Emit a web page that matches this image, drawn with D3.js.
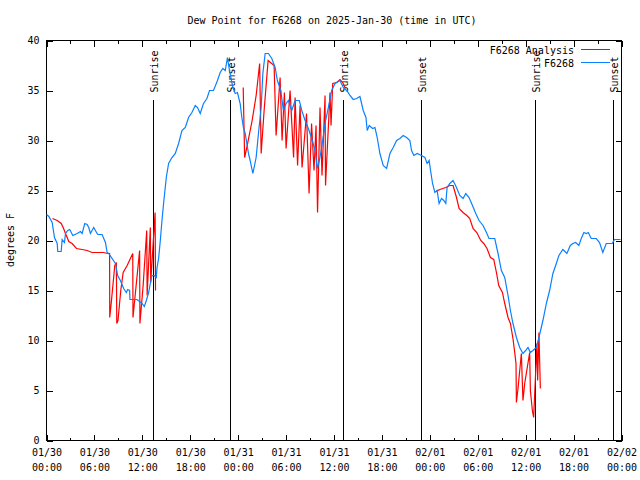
<!DOCTYPE html>
<html><head><meta charset="utf-8">
<script src="https://cdn.jsdelivr.net/npm/d3@7/dist/d3.min.js"></script>
<style>body{margin:0;background:#fff}svg{display:block}text{font-family:"DejaVu Sans Mono",monospace;font-size:10px;fill:#000}</style>
</head><body><svg id="c" width="640" height="480"></svg>
<script>
const title = "Dew Point for F6268 on 2025-Jan-30 (time in UTC)";
const yLabel = "degrees F";
const startUTC = Date.UTC(2025, 0, 30);
const endHours = 72;
const xTickHours = [0, 6, 12, 18, 24, 30, 36, 42, 48, 54, 60, 66, 72];
const xMinorHours = [3, 9, 15, 21, 27, 33, 39, 45, 51, 57, 63, 69];
const yTicks = [0, 5, 10, 15, 20, 25, 30, 35, 40];

const seriesNames = ["F6268 Analysis", "F6268"];
const seriesColors = ["#ff0000", "#0a80ff"];

// F6268 observations (hours after 2025-01-30 00:00 UTC, dew point F)
const blueHours = [0.0,0.29,0.71,1.0,1.34,1.41,1.84,1.96,2.25,2.38,2.66,2.91,3.29,3.84,4.25,4.46,4.79,5.09,5.29,5.5,5.91,6.41,6.96,7.38,7.59,7.79,8.63,8.91,9.25,9.66,10.0,10.16,10.41,10.45,11.34,11.96,12.25,12.5,12.79,13.0,13.21,13.5,13.75,13.84,14.04,14.25,14.46,14.66,15.0,15.29,15.71,16.13,16.54,16.96,17.38,17.79,18.21,18.63,18.91,19.25,19.66,20.09,20.41,20.91,21.41,21.75,22.09,22.38,22.66,22.91,23.34,23.63,23.91,24.25,24.46,24.66,24.88,25.09,25.29,25.5,25.84,26.25,26.54,26.88,27.09,27.38,27.79,28.21,28.63,28.91,29.34,29.66,30.0,30.29,30.71,31.13,31.66,31.96,32.38,32.79,33.21,33.63,33.91,34.16,34.46,34.88,35.29,35.71,36.13,36.75,37.16,37.59,38.0,38.41,38.84,39.25,39.66,40.0,40.16,40.41,40.84,41.13,41.41,41.75,42.16,42.59,43.0,43.41,43.84,44.25,44.66,45.09,45.5,45.71,46.0,46.41,46.96,47.38,47.66,47.91,48.09,48.34,48.63,48.91,49.16,49.46,49.75,50.0,50.16,50.5,50.91,51.34,51.75,52.16,52.5,52.91,53.34,53.75,54.16,54.66,55.09,55.41,56.13,56.54,56.96,57.38,57.79,58.09,58.41,58.84,59.25,59.66,60.0,60.29,60.59,60.91,61.34,61.66,62.16,62.59,63.0,63.41,63.84,64.16,64.66,65.16,65.59,65.91,66.25,66.66,66.96,67.29,67.59,67.84,68.21,68.84,69.25,69.66,70.09,70.84,71.13,71.88];
const blueValues = [22.6,22.4,21.8,20.3,19.7,18.9,18.9,20.1,19.8,20.7,21.0,21.1,20.5,20.7,20.9,20.7,21.7,21.6,21.3,20.7,21.3,20.6,20.6,19.8,18.8,18.7,17.7,16.5,16.0,15.2,14.8,15.1,15.0,14.1,14.1,13.7,13.4,14.0,14.8,15.7,16.5,16.5,16.3,17.3,18.2,20.0,22.0,23.7,26.3,27.7,28.3,28.7,29.7,31.0,31.3,32.3,32.8,33.5,33.3,32.7,33.7,34.2,35.0,35.0,36.0,36.8,37.2,37.0,38.3,37.0,35.3,34.7,34.8,33.7,32.3,31.3,30.7,29.7,28.7,28.0,26.7,28.3,30.7,33.3,36.7,38.7,38.7,38.2,37.3,36.0,35.0,33.0,33.7,34.0,33.0,34.0,34.0,33.0,32.0,31.2,30.2,29.0,27.2,28.0,29.3,31.7,33.3,35.0,35.7,36.0,35.3,35.0,34.5,34.1,34.2,34.4,33.0,32.3,31.0,31.5,31.2,31.3,30.3,28.7,27.5,27.2,28.7,29.3,30.0,30.2,30.5,30.3,30.0,29.0,28.5,28.7,28.5,28.3,27.7,28.0,27.0,25.7,24.8,25.0,23.7,24.2,24.0,23.7,25.3,25.7,26.0,25.3,24.5,24.2,24.7,24.3,23.5,22.7,22.0,21.5,20.8,20.2,20.2,18.7,17.0,16.3,14.5,13.0,11.7,10.3,9.3,8.7,9.0,9.3,8.8,9.0,9.3,10.3,12.0,13.7,15.0,16.7,17.7,18.5,19.1,18.7,19.5,19.7,19.8,19.5,20.2,20.8,20.7,20.8,20.2,20.2,19.8,18.8,19.7,19.7,20.1,20.1];

// F6268 Analysis (null = no analysis)
const redHours = [0.75,1.34,1.84,2.09,2.38,2.79,3.21,3.75,4.46,5.09,5.71,6.34,7.16,7.66,7.9,7.92,8.1,8.55,8.75,8.8,8.95,9.3,9.6,10.1,10.8,10.83,11.2,11.66,11.7,12.1,12.55,12.6,13.0,13.05,13.6,13.65,
  null,
  24.63,24.81,25.13,25.75,26.25,26.69,26.88,27.25,27.75,28.5,28.75,29.25,29.5,29.79,30.0,30.5,30.94,31.13,31.44,31.75,32.0,32.56,32.88,33.19,33.5,33.75,33.94,34.25,34.5,34.88,34.94,35.5,35.63,35.84,36.34,36.75,37.09,37.38,
  null,
  48.75,49.25,50.0,50.5,50.91,51.34,51.66,52.16,52.63,53.0,53.41,53.88,54.38,54.75,55.16,55.59,56.0,56.34,56.63,57.09,57.38,57.79,58.09,58.41,58.63,58.79,58.84,59.04,59.46,59.66,59.88,60.5,60.59,60.84,61.0,61.41,61.5,61.66,61.84];
const redValues = [22.2,22.0,21.7,21.3,20.7,19.9,19.7,19.2,19.1,19.0,18.8,18.8,18.8,18.7,18.7,12.3,13.7,17.5,17.8,11.7,12.0,15.0,16.8,17.5,18.7,12.3,15.3,19.0,11.7,15.5,21.0,14.5,21.3,15.8,22.8,15.0,
  null,
  35.3,28.3,29.5,32.0,34.5,37.7,28.7,33.0,38.0,37.5,30.5,36.3,30.0,34.8,29.2,35.0,28.3,34.3,27.5,33.5,27.3,32.7,24.7,31.7,27.0,31.5,22.8,33.3,26.5,34.5,25.5,34.8,31.5,35.7,35.8,36.1,35.8,35.3,
  null,
  24.9,25.1,25.3,25.5,25.5,24.3,23.2,22.8,22.5,22.2,21.2,20.8,20.0,19.7,19.2,18.3,18.1,16.8,15.5,14.8,13.7,12.3,11.7,10.2,8.8,7.7,3.8,5.2,8.7,4.0,5.7,8.8,5.0,3.0,2.3,9.7,6.0,10.8,5.2];

const sunEvents = ["Sunrise", "Sunset", "Sunrise", "Sunset", "Sunrise", "Sunset"];
const sunHours = [13.28, 22.92, 37.17, 46.92, 61.17, 70.92];

const toDate = h => new Date(startUTC + h * 3600e3);
const svg = d3.select("#c");
const L = 46.5, R = 621.5, T = 40.5, B = 440.5;
const x = d3.scaleUtc().domain([toDate(0), toDate(endHours)]).range([L, R]);
const y = d3.scaleLinear().domain([0, 40]).range([B, T]);

// axes
const fmtDay = d3.utcFormat("%m/%d"), fmtTime = d3.utcFormat("%H:%M");
const gx = svg.append("g").attr("transform", `translate(0,${B})`)
  .call(d3.axisBottom(x).tickValues(xTickHours.map(toDate)).tickSize(-6).tickPadding(10).tickFormat(d => fmtDay(d)));
gx.selectAll(".tick text").each(function(d) {
  const t = d3.select(this).text(null).attr("dy", null).attr("y", 16);
  t.append("tspan").attr("x", 0).attr("y", 15).text(fmtDay(d));
  t.append("tspan").attr("x", 0).attr("y", 30).text(fmtTime(d));
});
svg.append("g").attr("transform", `translate(0,${B})`)
  .call(d3.axisBottom(x).tickValues(xMinorHours.map(toDate)).tickSize(-3).tickFormat(""));
svg.append("g").attr("transform", `translate(0,${T})`)
  .call(d3.axisTop(x).tickValues(xTickHours.map(toDate)).tickSize(-6).tickFormat(""));
svg.append("g").attr("transform", `translate(0,${T})`)
  .call(d3.axisTop(x).tickValues(xMinorHours.map(toDate)).tickSize(-3).tickFormat(""));
svg.append("g").attr("transform", `translate(${L},0)`)
  .call(d3.axisLeft(y).tickValues(yTicks).tickSize(-6).tickPadding(7).tickFormat(d3.format("d")));
svg.append("g").attr("transform", `translate(${R},0)`)
  .call(d3.axisRight(y).tickValues(yTicks).tickSize(-6).tickFormat(""));
svg.selectAll(".domain").remove();
svg.selectAll(".tick line").attr("stroke", "#000").attr("shape-rendering", "crispEdges");
svg.selectAll(".tick text").attr("font-family", "DejaVu Sans Mono").attr("font-size", 10).attr("fill", "#000");

// frame
svg.append("rect").attr("x", L).attr("y", T).attr("width", R - L).attr("height", B - T)
  .attr("fill", "none").attr("stroke", "#000").attr("shape-rendering", "crispEdges");

// title and y label
svg.append("text").attr("x", 332).attr("y", 24).attr("text-anchor", "middle").text(title);
svg.append("text").attr("transform", "translate(14,240) rotate(-90)").attr("text-anchor", "middle").text(yLabel);

// sunrise / sunset markers
sunHours.forEach((h, i) => {
  const xp = Math.round(x(toDate(h))) + 0.5;
  svg.append("line").attr("x1", xp).attr("x2", xp).attr("y1", y(34.1)).attr("y2", B)
    .attr("stroke", "#000").attr("shape-rendering", "crispEdges");
  svg.append("text").attr("transform", `translate(${xp + 4},${y(34.8)}) rotate(-90)`)
    .attr("text-anchor", "start").text(sunEvents[i]);
});

// series
const line = d3.line().defined(d => d.v !== null).x(d => x(toDate(d.h))).y(d => y(d.v));
const redData = redHours.map((h, i) => ({ h, v: redValues[i] }));
const blueData = blueHours.map((h, i) => ({ h, v: blueValues[i] }));
svg.append("path").datum(redData).attr("d", line).attr("fill", "none").attr("stroke", seriesColors[0]).attr("stroke-width", 1.2);
svg.append("path").datum(blueData).attr("d", line).attr("fill", "none").attr("stroke", seriesColors[1]).attr("stroke-width", 1.2);

// legend
seriesNames.forEach((n, i) => {
  const ly = 49.5 + i * 13;
  svg.append("text").attr("x", 574).attr("y", ly + 4).attr("text-anchor", "end").text(n);
  svg.append("line").attr("x1", 581).attr("x2", 610).attr("y1", ly).attr("y2", ly)
    .attr("stroke", seriesColors[i]).attr("stroke-width", 1).attr("shape-rendering", "crispEdges");
});
</script></body></html>
